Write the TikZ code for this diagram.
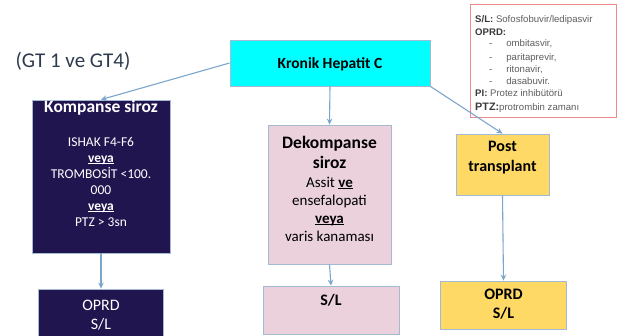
\documentclass[tikz,border=0pt]{standalone}
\usepackage{fontspec}
\setmainfont{Carlito}
\newfontfamily\legfont{Liberation Sans}
\usetikzlibrary{arrows.meta}
\newcommand\myul[1]{\setbox0\hbox{#1}\rlap{\rule[-1.6pt]{\wd0}{0.7pt}}\box0}
\definecolor{navy}{HTML}{211550}
\definecolor{pinkbox}{HTML}{EAD1DC}
\definecolor{yellowbox}{HTML}{FFD966}
\definecolor{cyanbox}{HTML}{00FFFF}
\definecolor{edge}{HTML}{A3BAD2}
\definecolor{arrowc}{HTML}{7DA6CB}
\definecolor{legred}{HTML}{EE8A8A}
\definecolor{legdark}{HTML}{3A3A3A}
\definecolor{leggray}{HTML}{5E5E5E}
\definecolor{gtcol}{HTML}{2E3B4E}
\tikzset{
  box/.style={draw=edge, line width=0.8pt, inner sep=0pt, rectangle},
  arr/.style={draw=arrowc, line width=1.1pt, -{Stealth[length=6pt,width=5.5pt]}},
  leg/.style={anchor=base west, inner sep=0pt, font=\legfont\fontsize{9.6}{10}\selectfont, text=leggray},
}
\begin{document}
\begin{tikzpicture}[x=1pt,y=-1pt]
\useasboundingbox (0,0) rectangle (624,336);
\fill[white] (0,0) rectangle (624,336);

% legend
\node[draw=legred, line width=0.8pt, minimum width=146pt, minimum height=113pt, inner sep=0pt] (legend) at (543,60.5) {};
\node[leg] (l1) at (475,22.5) {\textcolor{legdark}{\textbf{S/L:}} Sofosfobuvir/ledipasvir};
\node[leg] (l2) at (475,35.5) {\textcolor{legdark}{\textbf{OPRD:}}};
\node[leg] (l3) at (475,47) {\hspace*{14pt}-\hspace*{14pt}ombitasvir,};
\node[leg] (l4) at (475,60.5) {\hspace*{14pt}-\hspace*{14pt}paritaprevir,};
\node[leg] (l5) at (475,72.5) {\hspace*{14pt}-\hspace*{14pt}ritonavir,};
\node[leg] (l6) at (475,84.5) {\hspace*{14pt}-\hspace*{14pt}dasabuvir.};
\node[leg] (l7) at (475,96.5) {\textcolor{legdark}{\textbf{PI:}} Protez inhibütörü};
\node[leg] (l8) at (475,110.5) {\textcolor{legdark}{\fontsize{10.8}{11}\selectfont\textbf{PTZ:}}protrombin zamanı};

% GT label
\node[text=gtcol, font=\fontsize{21}{24}\selectfont, inner sep=0pt] (gt) at (73,61) {(GT 1 ve GT4)};

% main box
\node[box, fill=cyanbox, minimum width=200pt, minimum height=46pt] (khc) at (330,63) {};
\node[font=\bfseries\fontsize{15.5}{17}\selectfont, inner sep=0pt] (khct) at (330,64) {Kronik Hepatit C};

% Kompanse
\node[box, fill=navy, minimum width=138pt, minimum height=153pt] (kom) at (101,176.5) {};
\node[text=white, font=\bfseries\fontsize{17.5}{19}\selectfont, inner sep=0pt, anchor=base] (komt) at (101,113) {Kompanse siroz};
\node[text=white, align=center, font=\fontsize{13.5}{16}\selectfont, inner sep=0pt] (komb) at (101,182) {ISHAK F4-F6\\ \myul{\textbf{veya}}\\ TROMBOSİT <100.\\ 000\\ \myul{\textbf{veya}}\\ PTZ > 3sn};

% Dekompanse
\node[box, fill=pinkbox, minimum width=123pt, minimum height=139pt] (dek) at (329.5,194.5) {};
\node[align=center, font=\bfseries\fontsize{17.5}{20}\selectfont, inner sep=0pt] (dekt) at (329.5,152) {Dekompanse\\ siroz};
\node[align=center, font=\fontsize{15}{18}\selectfont, inner sep=0pt] (dekb) at (329.5,209) {Assit \myul{\textbf{ve}}\\ ensefalopati\\ \myul{\textbf{veya}}\\ varis kanaması};

% Post transplant
\node[box, fill=yellowbox, minimum width=93pt, minimum height=61pt] (post) at (502.5,164.5) {};
\node[align=center, font=\bfseries\fontsize{16}{20}\selectfont, inner sep=0pt] (postt) at (502.5,158) {Post\\ transplant};

% bottom boxes
\node[box, fill=navy, minimum width=125pt, minimum height=70pt] (b1) at (101,324) {};
\node[text=white, align=center, font=\fontsize{16}{19.5}\selectfont, inner sep=0pt] (b1t) at (101,315) {OPRD\\ S/L};
\node[box, fill=pinkbox, minimum width=136pt, minimum height=48pt] (b2) at (331,310) {};
\node[font=\bfseries\fontsize{16}{18}\selectfont, inner sep=0pt] (b2t) at (331,300) {S/L};
\node[box, fill=yellowbox, minimum width=126pt, minimum height=48pt] (b3) at (503.5,305) {};
\node[align=center, font=\bfseries\fontsize{16}{19.5}\selectfont, inner sep=0pt] (b3t) at (503.5,304) {OPRD\\ S/L};

% connectors
\draw[arr] (khc.west) -- (kom.north);
\draw[arr] (khc.south) -- (dek.north);
\draw[arr] (khc.south east) -- (post.north);
\draw[arr] (kom.south) -- (b1.north);
\draw[arr] (dek.south) -- (b2.north);
\draw[arr] (post.south) -- (b3.north);
\end{tikzpicture}
\end{document}
